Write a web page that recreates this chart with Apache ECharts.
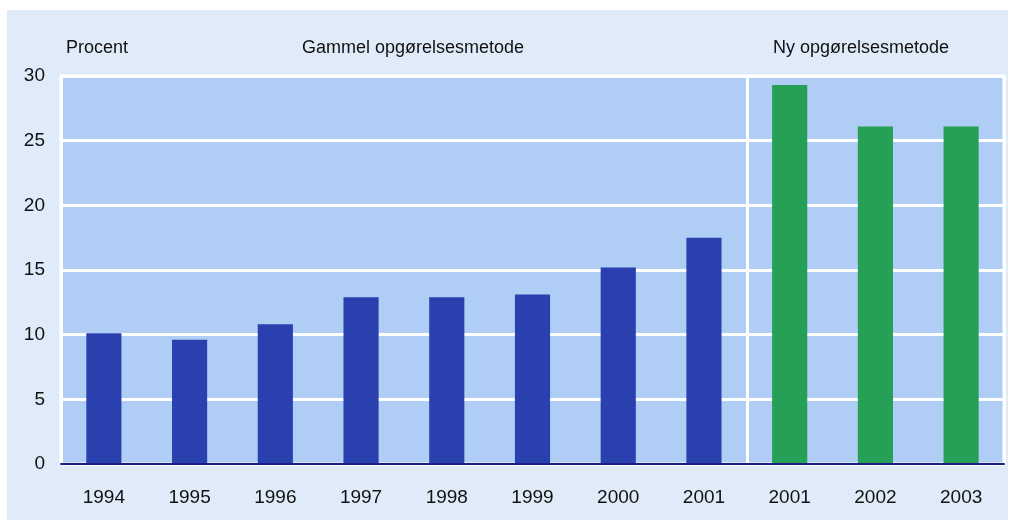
<!DOCTYPE html>
<html lang="da">
<head>
	<meta charset="UTF-8">
	<title>Procent</title>
	<style>
		html, body { margin: 0; padding: 0; background: #ffffff; }
		#chart_box { width: 1011px; height: 526px; }
	</style>
	<script type="text/javascript" src="https://cdn.jsdelivr.net/npm/echarts@6/dist/echarts.min.js"></script>
</head>
<body>
	<div id="chart_box"></div>
	<script type="text/javascript">
	// data
	var years = ['1994', '1995', '1996', '1997', '1998', '1999', '2000', '2001', '2001', '2002', '2003'];
	var oldMethod = [10.1, 9.6, 10.8, 12.9, 12.9, 13.1, 15.2, 17.5, null, null, null];
	var newMethod = [null, null, null, null, null, null, null, null, 29.3, 26.1, 26.1];
	var yTicks = [0, 5, 10, 15, 20, 25, 30];
	var splitAt = 8; // index where the new method starts

	var chart = echarts.init(document.getElementById('chart_box'));
	var fontFam = '"Liberation Sans", Arial, sans-serif';

	var option = {
		backgroundColor: '#ffffff',
		animation: false,
		graphic: [
			{
				type: 'rect', z: -10, silent: true,
				shape: { x: 7, y: 10, width: 1001, height: 510 },
				style: { fill: '#dfebf9' }
			},
			{
				type: 'text', left: 66, top: 39,
				style: { text: 'Procent', font: '18px ' + fontFam, fill: '#111' }
			},
			{
				type: 'text', left: 302, top: 39,
				style: { text: 'Gammel opgørelsesmetode', font: '18px ' + fontFam, fill: '#111' }
			},
			{
				type: 'text', left: 773, top: 39,
				style: { text: 'Ny opgørelsesmetode', font: '18px ' + fontFam, fill: '#111' }
			}
		],
		grid: {
			left: 61, right: 7, top: 76, bottom: 62,
			show: true,
			backgroundColor: '#b0cef5',
			borderColor: '#ffffff',
			borderWidth: 3
		},
		xAxis: [
			{
				type: 'category',
				data: years,
				axisTick: { show: false },
				axisLine: { lineStyle: { color: '#1d1d8a', width: 2 } },
				axisLabel: { interval: 0, margin: 24, fontSize: 19, color: '#111', fontFamily: fontFam },
				splitLine: { show: false },
				z: 5
			},
			{
				// hidden helper axis, only for the white separator line
				type: 'value',
				position: 'bottom',
				min: 0,
				max: years.length,
				interval: splitAt,
				axisLine: { show: false },
				axisTick: { show: false },
				axisLabel: { show: false },
				splitLine: { show: true, lineStyle: { color: '#ffffff', width: 3 } }
			}
		],
		yAxis: {
			type: 'value',
			min: yTicks[0],
			max: yTicks[yTicks.length - 1],
			interval: 5,
			axisLine: { show: false },
			axisTick: { show: false },
			axisLabel: { margin: 16, fontSize: 19, color: '#111', fontFamily: fontFam },
			splitLine: { lineStyle: { color: '#ffffff', width: 3 } }
		},
		series: [
			{
				name: 'Gammel opgørelsesmetode',
				type: 'bar',
				data: oldMethod,
				barWidth: '41%',
				barGap: '-100%',
				itemStyle: { color: '#2940ae' }
			},
			{
				name: 'Ny opgørelsesmetode',
				type: 'bar',
				data: newMethod,
				barWidth: '41%',
				itemStyle: { color: '#27a057' }
			}
		]
	};
	chart.setOption(option);
	</script>
</body>
</html>
